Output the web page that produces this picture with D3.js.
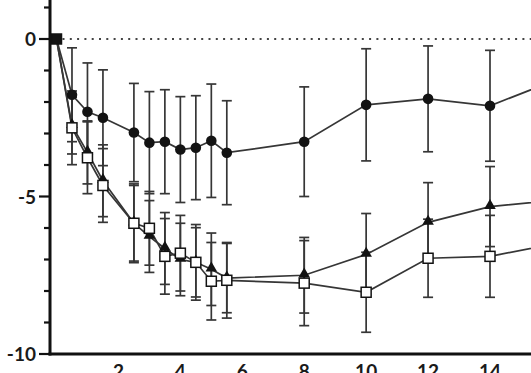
<!DOCTYPE html>
<html>
<head>
<meta charset="utf-8">
<script src="https://cdn.jsdelivr.net/npm/d3@7/dist/d3.min.js"></script>
<style>
  html, body { margin: 0; padding: 0; background: #fff; overflow: hidden; }
  svg { display: block; }
</style>
</head>
<body>
<svg id="chart" width="531" height="373"></svg>
<script>
// ---- data ----
const weeks = [0, 0.5, 1, 1.5, 2.5, 3, 3.5, 4, 4.5, 5, 5.5, 8, 10, 12, 14, 16];
const circleMean = [0, -1.77, -2.31, -2.5, -2.97, -3.29, -3.26, -3.51, -3.45, -3.23, -3.61, -3.26, -2.09, -1.9, -2.12, -1.35];
const circleSD   = [0, 1.49, 1.55, 1.52, 1.56, 1.62, 1.65, 1.68, 1.65, 1.8, 1.65, 1.74, 1.78, 1.68, 1.76, 1.7];
const triMean    = [0, -2.75, -3.6, -4.5, -5.85, -6.27, -6.65, -7.0, -7.09, -7.31, -7.59, -7.5, -6.84, -5.82, -5.32, -5.13];
const triSD      = [0, 0.9, 1.0, 1.14, 1.2, 1.14, 1.14, 1.15, 1.1, 1.15, 1.1, 1.2, 1.3, 1.26, 1.27, 1.3];
const sqMean     = [0, -2.82, -3.77, -4.65, -5.85, -6.01, -6.9, -6.8, -7.09, -7.69, -7.66, -7.75, -8.04, -6.96, -6.9, -6.52];
const sqSD       = [0, 1.17, 1.14, 1.17, 1.25, 1.17, 1.2, 1.2, 1.2, 1.23, 1.2, 1.35, 1.27, 1.24, 1.3, 1.3];
const xTickValues = [2, 4, 6, 8, 10, 12, 14];
const yLabelValues = [0, -5, -10];
const yTickValues = [1, 0, -1, -2, -3, -4, -5, -6, -7, -8, -9, -10];

// ---- scales ----
const x = d3.scaleLinear().domain([0, 14]).range([56.5, 490]);
const y = d3.scaleLinear().domain([0, -10]).range([39, 354]);

const svg = d3.select("#chart");
const ink = "#363636";
const mark = "#131313";

function toRows(means, sds) {
  return weeks.map((w, i) => ({ x: w, m: means[i], sd: sds[i] }));
}
const series = [
  { key: "circle", rows: toRows(circleMean, circleSD) },
  { key: "triangle", rows: toRows(triMean, triSD) },
  { key: "square", rows: toRows(sqMean, sqSD) }
];

// zero reference line (dotted)
svg.append("line")
  .attr("x1", x(0) + 6).attr("x2", 531)
  .attr("y1", y(0)).attr("y2", y(0))
  .attr("stroke", "#444").attr("stroke-width", 2)
  .attr("stroke-dasharray", "2,5.3");

// error bars
const capW = 5;
series.forEach(s => {
  const g = svg.append("g").attr("class", "err-" + s.key);
  const rows = s.rows.filter(d => d.sd > 0);
  g.append("g").selectAll("line").data(rows).join("line")
    .attr("x1", d => x(d.x)).attr("x2", d => x(d.x))
    .attr("y1", d => y(d.m + d.sd)).attr("y2", d => y(d.m - d.sd))
    .attr("stroke", ink).attr("stroke-width", 1.7);
  g.append("g").selectAll("line").data(rows).join("line")
    .attr("x1", d => x(d.x) - capW).attr("x2", d => x(d.x) + capW)
    .attr("y1", d => y(d.m + d.sd)).attr("y2", d => y(d.m + d.sd))
    .attr("stroke", ink).attr("stroke-width", 1.7);
  g.append("g").selectAll("line").data(rows).join("line")
    .attr("x1", d => x(d.x) - capW).attr("x2", d => x(d.x) + capW)
    .attr("y1", d => y(d.m - d.sd)).attr("y2", d => y(d.m - d.sd))
    .attr("stroke", ink).attr("stroke-width", 1.7);
});

// connecting lines
const line = d3.line().x(d => x(d.x)).y(d => y(d.m));
series.forEach(s => {
  svg.append("path").datum(s.rows)
    .attr("d", line)
    .attr("fill", "none").attr("stroke", ink).attr("stroke-width", 1.7);
});

// markers
svg.append("g").selectAll("circle").data(series[0].rows.filter(d => d.x > 0)).join("circle")
  .attr("cx", d => x(d.x)).attr("cy", d => y(d.m)).attr("r", 5.3)
  .attr("fill", mark);

const tri = d3.symbol().type(d3.symbolTriangle).size(58);
svg.append("g").selectAll("path").data(series[1].rows.filter(d => d.x > 0)).join("path")
  .attr("d", tri)
  .attr("transform", d => `translate(${x(d.x)},${y(d.m) - 1})`)
  .attr("fill", mark);

const sq = 10;
svg.append("g").selectAll("rect").data(series[2].rows).join("rect")
  .attr("x", d => x(d.x) - sq / 2).attr("y", d => y(d.m) - sq / 2)
  .attr("width", sq).attr("height", sq)
  .attr("fill", d => d.x === 0 ? mark : "#fff")
  .attr("stroke", mark).attr("stroke-width", 1.5);

// ---- axes ----
const axisX = 50;
svg.append("line")
  .attr("x1", axisX).attr("x2", axisX)
  .attr("y1", 0).attr("y2", y(-10) + 1.5)
  .attr("stroke", "#111").attr("stroke-width", 3);
svg.append("g").selectAll("line").data(yTickValues).join("line")
  .attr("x1", d => (d % 5 === 0 ? axisX - 11 : axisX - 6)).attr("x2", axisX)
  .attr("y1", d => y(d)).attr("y2", d => y(d))
  .attr("stroke", "#111").attr("stroke-width", 2.2);
svg.append("g").selectAll("text").data(yLabelValues).join("text")
  .attr("x", 36).attr("y", d => y(d) + 7)
  .attr("text-anchor", "end")
  .attr("font-family", "Lato, 'Open Sans', sans-serif")
  .attr("font-weight", "bold").attr("font-size", 19)
  .attr("fill", "#1a1a1a")
  .text(d => d);

svg.append("line")
  .attr("x1", axisX - 1.5).attr("x2", 531)
  .attr("y1", y(-10)).attr("y2", y(-10))
  .attr("stroke", "#111").attr("stroke-width", 3);
svg.append("g").selectAll("text").data(xTickValues).join("text")
  .attr("x", d => x(d)).attr("y", 378)
  .attr("text-anchor", "middle")
  .attr("font-family", "Lato, 'Open Sans', sans-serif")
  .attr("font-weight", "bold").attr("font-size", 19)
  .attr("fill", "#1a1a1a")
  .text(d => d);
</script>
</body>
</html>
